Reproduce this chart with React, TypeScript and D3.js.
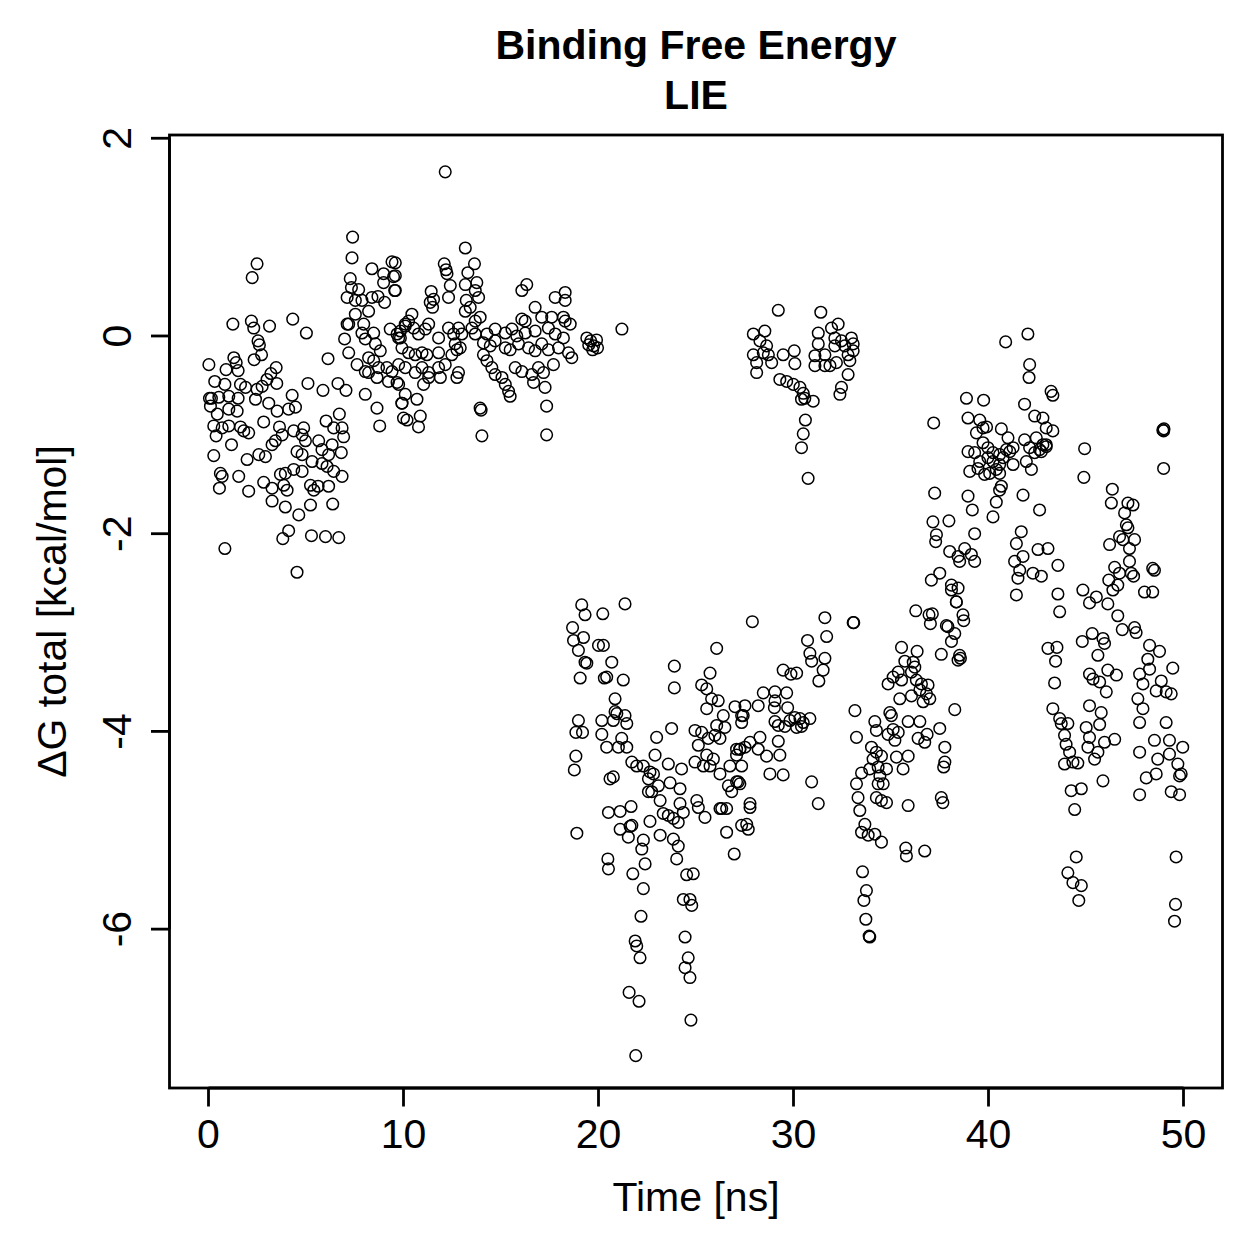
import React from "react";
import { scaleLinear } from "d3";

// [time (ns), ΔG total (kcal/mol)], grouped by region
const early: [number, number][] = [
  [2.49,0.73],[2.24,0.59],[1.25,0.12],[2.2,0.15],[2.32,0.08],[3.13,0.1],[4.32,0.17],[5.02,0.03],[6.13,-0.23],[2.54,-0.05],
  [2.61,-0.09],[2.72,-0.19],[2.34,-0.24],[0.02,-0.29],[1.3,-0.22],[1.42,-0.27],[1.52,-0.35],[0.9,-0.34],[3.47,-0.32],[3.2,-0.38],
  [3.0,-0.44],[3.5,-0.48],[0.32,-0.46],[0.84,-0.49],[1.64,-0.49],[1.9,-0.52],[2.49,-0.54],[2.75,-0.51],[5.1,-0.48],[6.64,-0.48],
  [7.05,-0.55],[5.87,-0.55],[4.29,-0.6],[0.05,-0.63],[0.15,-0.63],[0.53,-0.62],[1.04,-0.61],[1.52,-0.63],[2.41,-0.64],[0.1,-0.71],
  [0.45,-0.79],[1.04,-0.74],[1.47,-0.76],[3.09,-0.68],[3.52,-0.76],[4.11,-0.74],[4.46,-0.72],[6.71,-0.79],[0.27,-0.91],[0.7,-0.93],
  [1.04,-0.91],[1.64,-0.92],[1.81,-0.96],[2.06,-0.98],[2.83,-0.87],[0.39,-1.01],[1.18,-1.1],[3.64,-0.92],[3.78,-1.0],[3.43,-1.06],
  [3.26,-1.1],[4.37,-0.96],[4.88,-0.93],[4.8,-1.0],[4.97,-1.06],[6.03,-0.86],[6.42,-0.93],[6.85,-0.93],[6.93,-1.02],[0.27,-1.21],
  [1.98,-1.25],[2.58,-1.2],[2.92,-1.22],[4.54,-1.17],[4.8,-1.2],[5.65,-1.06],[5.82,-1.15],[6.34,-1.1],[6.16,-1.2],[6.81,-1.18],
  [0.61,-1.39],[0.7,-1.42],[1.55,-1.42],[3.69,-1.4],[3.94,-1.39],[4.37,-1.35],[4.8,-1.37],[5.31,-1.27],[5.82,-1.29],[6.08,-1.32],
  [6.42,-1.37],[6.85,-1.42],[0.56,-1.54],[2.06,-1.57],[2.83,-1.48],[3.26,-1.54],[3.86,-1.51],[4.03,-1.56],[5.23,-1.51],[5.4,-1.56],
  [5.62,-1.52],[6.16,-1.52],[3.26,-1.67],[3.94,-1.73],[4.63,-1.81],[5.23,-1.71],[6.37,-1.7],[4.11,-1.97],[3.81,-2.05],[5.28,-2.02],
  [6.0,-2.03],[6.68,-2.04],[0.84,-2.15],[4.54,-2.39],
];

const plateauA: [number, number][] = [
  [7.39,1.0],[7.36,0.79],[8.38,0.68],[8.98,0.63],[9.49,0.6],[9.41,0.75],[9.55,0.46],[8.98,0.54],[7.27,0.58],[7.33,0.49],
  [7.11,0.39],[7.7,0.47],[7.53,0.36],[7.87,0.36],[8.38,0.39],[8.69,0.4],[9.03,0.34],[7.53,0.22],[8.21,0.25],[7.11,0.12],
  [7.19,0.12],[7.96,0.12],[7.87,0.03],[8.47,0.03],[8.04,-0.03],[6.98,-0.03],[7.19,-0.17],[8.56,-0.08],[8.81,-0.15],[9.32,0.07],
  [9.67,0.02],[9.84,-0.02],[10.09,0.12],[8.21,-0.22],[8.47,-0.25],[8.72,-0.32],[9.15,-0.32],[9.41,-0.36],[8.04,-0.36],[7.62,-0.29],
  [8.21,-0.37],[8.64,-0.42],[9.23,-0.46],[9.67,-0.47],[9.92,-0.68],[10.0,-0.83],[8.04,-0.59],[8.64,-0.73],[8.78,-0.91],
  [13.17,0.89],[13.64,0.73],[12.09,0.73],[12.18,0.67],[12.23,0.63],[13.3,0.64],[13.17,0.52],[13.76,0.54],[13.68,0.46],[13.85,0.39],
  [12.4,0.51],[12.31,0.39],[11.42,0.45],[11.54,0.37],[11.49,0.29],[11.37,0.34],[9.58,0.74],[9.58,0.61],[9.58,0.46],[13.22,0.36],
  [13.42,0.29],[13.17,0.25],[13.93,0.19],[13.68,0.15],[13.51,0.08],[13.68,0.02],[10.43,0.22],[10.26,0.15],[10.09,0.1],[9.84,0.05],
  [10.52,0.08],[10.77,0.02],[11.12,0.07],[11.29,0.12],[11.8,-0.02],[12.31,0.08],[12.57,0.02],[12.82,0.08],[12.99,0.02],[12.65,-0.08],
  [12.91,-0.12],[9.75,-0.02],[9.92,-0.12],[10.26,-0.17],[10.6,-0.19],[10.95,-0.17],[11.2,-0.19],[11.8,-0.17],[12.48,-0.19],[12.74,-0.14],
  [9.75,-0.29],[10.09,-0.32],[10.6,-0.37],[10.95,-0.32],[11.29,-0.37],[11.8,-0.32],[12.14,-0.29],[12.82,-0.37],[12.74,-0.42],[11.89,-0.42],
  [9.75,-0.49],[10.09,-0.59],[9.92,-0.68],[10.69,-0.64],[11.03,-0.49],[11.29,-0.42],[10.18,-0.85],[10.86,-0.81],[10.77,-0.92],[13.93,-0.73],
  [13.98,-0.75],[14.02,-1.01],[12.14,1.66],
];

const plateauB: [number, number][] = [
  [16.07,0.46],[16.32,0.52],[17.78,0.39],[18.29,0.44],[18.29,0.36],[16.75,0.29],[17.09,0.19],[16.07,0.17],[16.24,0.15],[17.6,0.19],
  [18.2,0.19],[18.55,0.12],[18.29,0.15],[14.7,0.07],[14.28,0.02],[15.22,0.03],[15.56,0.07],[15.81,0],[16.24,0.03],[16.75,0.05],
  [17.43,0.08],[17.78,0.02],[18.2,-0.02],[14.1,-0.07],[14.45,-0.1],[14.7,-0.05],[15.22,-0.12],[15.47,-0.14],[15.9,-0.08],[16.41,-0.12],
  [16.75,-0.15],[17.09,-0.08],[17.43,-0.14],[17.95,-0.12],[18.46,-0.17],[18.63,-0.22],[14.1,-0.19],[14.28,-0.25],[14.53,-0.32],[14.7,-0.39],
  [15.05,-0.42],[15.22,-0.49],[15.39,-0.56],[15.47,-0.61],[15.73,-0.32],[16.07,-0.36],[16.58,-0.39],[16.92,-0.32],[17.18,-0.37],[17.69,-0.29],
  [16.67,-0.47],[17.26,-0.52],[17.34,-0.71],[17.34,-1.0],[19.4,-0.02],[19.6,-0.05],[19.75,-0.1],[19.9,-0.04],[19.7,-0.14],[19.5,-0.09],
  [19.95,-0.12],[21.2,0.07],
];

const dropA: [number, number][] = [
  [19.14,-2.72],[19.31,-2.82],[20.22,-2.81],[21.36,-2.71],[18.67,-2.95],[18.72,-3.08],[19.23,-3.05],[18.97,-3.18],[20.0,-3.13],[20.25,-3.13],
  [19.31,-3.3],[19.4,-3.31],[20.68,-3.3],[19.06,-3.46],[20.3,-3.46],[20.42,-3.45],[21.27,-3.48],[20.85,-3.67],[20.85,-3.8],[20.94,-3.82],
  [21.36,-3.84],[21.45,-3.92],[20.76,-3.89],[18.97,-3.89],[18.84,-4.01],[19.18,-4.01],[20.17,-3.89],[20.17,-4.03],[20.42,-4.16],[18.84,-4.25],
  [18.76,-4.39],[21.19,-4.07],[21.45,-4.16],[21.02,-4.16],[20.59,-4.48],[20.76,-4.46],[18.89,-5.03],[20.51,-4.82],[21.11,-4.81],[21.67,-4.76],
  [21.11,-4.99],[21.62,-4.96],[21.53,-5.07],[20.48,-5.29],[20.51,-5.39],[21.71,-4.31],[21.96,-4.35],[22.3,-4.35],[22.64,-4.41],[22.9,-4.24],
  [22.98,-4.06],[23.75,-3.97],[22.56,-4.48],[22.82,-4.43],[23.07,-4.55],[22.73,-4.61],[22.56,-4.61],[23.16,-4.7],[23.58,-4.33],[23.67,-4.52],
  [24.18,-4.58],[24.26,-4.38],[23.32,-4.83],[23.58,-4.85],[23.84,-4.88],[24.09,-4.92],[22.64,-4.91],[24.18,-4.73],[24.35,-4.82],[21.71,-4.95],
  [23.16,-5.05],[23.84,-5.09],[24.09,-5.16],[24.01,-5.29],[22.3,-5.1],[22.22,-5.19],[22.39,-5.34],[21.76,-5.44],[22.3,-5.59],[22.18,-5.87],
  [24.52,-5.45],[24.86,-5.44],[24.35,-5.7],[24.69,-5.7],[24.78,-5.76],[21.88,-6.12],[21.96,-6.17],[22.13,-6.29],[24.44,-6.08],[24.6,-6.29],
  [24.44,-6.39],[24.69,-6.49],[21.57,-6.64],[22.08,-6.73],[24.74,-6.92],[21.91,-7.28],
  [26.06,-3.16],[23.89,-3.34],[23.89,-3.56],[25.72,-3.41],[25.29,-3.53],[25.55,-3.57],[25.8,-3.67],[26.14,-3.69],[25.55,-3.77],[26.4,-3.84],
  [26.06,-3.94],[26.48,-3.96],[27.0,-3.75],[27.34,-3.84],[24.95,-3.99],[25.29,-4.01],[25.63,-4.07],[25.97,-4.04],[26.23,-4.07],[25.12,-4.14],
  [25.55,-4.24],[24.95,-4.31],[25.38,-4.35],[25.72,-4.35],[26.23,-4.43],[25.89,-4.28],[26.74,-4.35],[27.08,-4.24],[27.25,-4.18],[26.66,-4.55],
  [27.08,-4.51],[26.83,-4.61],[26.32,-4.78],[26.57,-4.78],[26.57,-5.02],[26.96,-5.24],[25.04,-4.7],[25.12,-4.77],[25.46,-4.87],[26.23,-4.78],
  [27.34,-4.95],
];

const plateauC: [number, number][] = [
  [29.22,0.26],[31.4,0.24],[27.94,0.02],[28.53,0.05],[28.28,-0.05],[28.62,-0.1],[28.45,-0.17],[27.94,-0.19],[28.71,-0.19],[28.88,-0.27],
  [28.11,-0.27],[28.11,-0.37],[29.47,-0.19],[30.04,-0.15],[30.07,-0.28],[29.3,-0.44],[29.65,-0.46],[29.99,-0.49],[30.33,-0.52],[30.5,-0.58],
  [30.58,-0.63],[31.01,-0.66],[30.41,-0.64],[30.61,-0.85],[30.5,-0.99],[30.41,-1.13],[30.75,-1.44],[31.27,0.03],[31.27,-0.08],[31.1,-0.2],
  [31.61,-0.19],[31.95,0.08],[32.29,0.12],[32.12,-0.02],[32.46,-0.05],[32.63,-0.1],[32.97,-0.02],[33.06,-0.08],[32.8,-0.19],[32.89,-0.25],
  [32.2,-0.27],[31.87,-0.3],[31.61,-0.3],[31.1,-0.3],[32.8,-0.39],[32.46,-0.52],[32.38,-0.59],[33.06,-0.15],[32.12,-0.1],
];

const dropB: [number, number][] = [
  [27.89,-2.89],[31.61,-2.85],[33.06,-2.9],[31.7,-3.04],[30.72,-3.08],[30.84,-3.21],[30.93,-3.29],[31.61,-3.26],[31.52,-3.38],[31.3,-3.49],
  [29.47,-3.38],[29.87,-3.42],[30.16,-3.41],[28.45,-3.61],[29.05,-3.6],[29.65,-3.61],[28.19,-3.74],[29.05,-3.69],[29.02,-3.76],[29.7,-3.76],
  [29.05,-3.9],[29.22,-3.94],[29.56,-3.95],[29.82,-3.89],[30.07,-3.86],[30.33,-3.87],[30.5,-3.91],[30.84,-3.87],[30.16,-3.96],[30.41,-3.95],
  [28.28,-4.06],[27.77,-4.11],[27.51,-4.16],[27.25,-4.18],[28.19,-4.18],[28.62,-4.25],[29.22,-4.1],[29.3,-4.24],[28.79,-4.43],[29.47,-4.44],
  [30.93,-4.51],[31.27,-4.73],[33.15,-3.79],[33.23,-4.06],[27.51,-3.74],[27.42,-3.84],[27.34,-3.91],[27.08,-4.18],[27.34,-4.35],[27.17,-4.51],
  [27.25,-4.53],[27.77,-4.73],[27.77,-4.77],[27.6,-4.94],[27.68,-4.99],
  [33.09,-2.9],[36.27,-2.78],[36.95,-2.82],[37.12,-2.81],[37.02,-2.91],[37.84,-2.93],[37.92,-2.94],[38.27,-3.01],[38.1,-3.09],[38.35,-2.69],
  [38.69,-2.82],[38.73,-2.88],[37.58,-3.22],[38.52,-3.23],[38.56,-3.26],[38.44,-3.28],[35.54,-3.15],[36.34,-3.19],[35.71,-3.29],[36.14,-3.3],
  [36.22,-3.35],[36.05,-3.4],[35.37,-3.4],[35.11,-3.45],[35.54,-3.48],[34.85,-3.52],[36.3,-3.48],[36.56,-3.52],[36.9,-3.53],[36.48,-3.58],
  [36.82,-3.62],[36.99,-3.67],[36.65,-3.7],[35.45,-3.67],[36.05,-3.64],[34.94,-3.81],[35.02,-3.84],[34.17,-3.9],[34.25,-3.99],[34.85,-4.03],
  [35.11,-3.98],[35.37,-4.01],[35.2,-4.09],[35.88,-3.9],[36.48,-3.9],[36.39,-4.07],[36.73,-4.11],[36.85,-4.03],[37.5,-3.97],[38.27,-3.78],
  [34.0,-4.16],[34.25,-4.21],[34.51,-4.25],[34.08,-4.28],[35.28,-4.26],[35.88,-4.25],[33.91,-4.38],[34.34,-4.36],[34.77,-4.38],[35.62,-4.38],
  [33.49,-4.42],[33.23,-4.53],[34.43,-4.45],[34.6,-4.53],[34.34,-4.53],[37.76,-4.16],[37.76,-4.31],[37.7,-4.36],[37.58,-4.67],[37.66,-4.72],
  [33.31,-4.67],[33.4,-4.8],[34.25,-4.67],[34.51,-4.7],[34.77,-4.72],[35.88,-4.75],[33.66,-4.94],[33.49,-5.02],[33.83,-5.05],[34.17,-5.04],
  [34.51,-5.12],[35.76,-5.18],[35.79,-5.26],[36.73,-5.21],[33.54,-5.42],[33.74,-5.61],[33.61,-5.71],[33.71,-5.9],[33.88,-6.07],[33.91,-6.08],
];

const recovery: [number, number][] = [
  [42.02,0.02],[40.88,-0.06],[42.11,-0.29],[42.08,-0.42],[43.21,-0.56],[43.3,-0.6],[38.87,-0.63],[39.75,-0.65],[41.85,-0.69],[42.37,-0.81],
  [42.79,-0.83],[37.19,-0.88],[38.95,-0.83],[39.55,-0.85],[39.72,-0.93],[39.9,-0.92],[40.66,-0.94],[42.96,-0.93],[43.3,-0.96],[39.38,-0.98],
  [38.95,-1.17],[39.29,-1.18],[39.72,-1.08],[39.97,-1.13],[40.23,-1.18],[40.57,-1.2],[40.92,-1.15],[41.26,-1.13],[41.85,-1.05],[42.45,-1.03],
  [42.11,-1.13],[42.37,-1.18],[42.62,-1.15],[42.96,-1.1],[41.0,-1.03],[39.04,-1.37],[39.46,-1.34],[39.8,-1.4],[40.06,-1.39],[40.4,-1.35],
  [40.57,-1.3],[40.75,-1.23],[41.09,-1.17],[41.26,-1.3],[40.57,-1.39],[40.23,-1.27],[39.97,-1.23],[39.55,-1.27],[41.94,-1.27],[42.2,-1.35],
  [40.66,-1.52],[40.57,-1.56],[40.4,-1.68],[41.77,-1.61],[42.62,-1.76],[40.23,-1.83],[37.24,-1.59],[38.95,-1.62],[39.17,-1.76],[37.15,-1.88],
  [37.97,-1.87],[37.33,-2.01],[37.29,-2.08],[39.29,-2.0],[41.68,-1.98],[41.43,-2.1],[41.34,-2.28],[41.77,-2.23],[41.6,-2.37],[41.51,-2.45],
  [41.43,-2.62],[42.28,-2.4],[42.71,-2.43],[42.54,-2.16],[43.05,-2.15],[38.01,-2.18],[38.44,-2.23],[38.78,-2.15],[39.12,-2.21],[39.29,-2.28],
  [38.52,-2.28],[37.07,-2.47],[37.5,-2.4],[38.1,-2.52],[38.1,-2.57],[38.44,-2.55],[38.35,-2.69],
];

const late: [number, number][] = [
  [48.94,-0.95],[48.98,-0.96],[49.0,-0.94],[48.98,-1.34],[44.93,-1.14],[44.89,-1.43],[42.79,-1.1],[42.96,-1.12],[42.71,-1.17],
  [46.35,-1.55],[46.3,-1.69],[47.15,-1.69],[47.41,-1.71],[46.98,-1.79],[47.07,-1.91],[47.15,-1.94],[46.72,-2.03],[46.89,-2.06],[47.49,-2.06],
  [47.23,-2.15],[46.21,-2.11],[47.23,-2.28],[47.32,-2.4],[47.44,-2.43],[46.47,-2.34],[46.72,-2.4],[46.17,-2.47],[46.63,-2.52],[46.38,-2.57],
  [48.42,-2.35],[48.51,-2.37],[48.0,-2.59],[48.42,-2.59],[43.56,-2.32],[43.56,-2.61],[43.65,-2.79],[44.84,-2.57],[45.18,-2.7],[45.53,-2.64],
  [46.12,-2.71],[46.63,-2.83],[46.86,-2.97],[47.49,-2.95],[47.57,-3.0],
  [43.05,-3.16],[43.51,-3.15],[43.44,-3.29],[43.39,-3.51],[43.3,-3.77],[43.65,-3.87],[43.73,-3.92],[44.07,-3.92],[43.9,-4.04],[43.98,-4.13],
  [44.16,-4.21],[44.33,-4.31],[43.9,-4.33],[44.58,-4.32],[44.76,-4.58],[44.24,-4.6],[44.42,-4.79],
  [44.81,-3.09],[45.32,-3.01],[45.87,-3.06],[45.95,-3.11],[45.61,-3.23],[45.18,-3.42],[45.36,-3.47],[45.7,-3.5],[46.12,-3.38],[46.56,-3.43],
  [46.04,-3.6],[45.18,-3.74],[45.78,-3.81],[45.7,-3.93],[45.01,-3.96],[45.18,-4.06],[45.1,-4.16],[45.61,-4.21],[45.44,-4.28],[45.95,-4.11],
  [46.47,-4.08],[45.87,-4.5],
  [48.26,-3.13],[48.77,-3.19],[48.17,-3.27],[48.26,-3.37],[47.75,-3.42],[47.92,-3.52],[48.86,-3.49],[48.6,-3.59],[49.11,-3.6],[49.37,-3.62],
  [49.45,-3.36],[47.66,-3.67],[47.92,-3.77],[47.75,-3.91],[49.11,-3.91],[48.51,-4.09],[49.28,-4.09],[49.96,-4.16],[48.68,-4.28],[49.28,-4.23],
  [49.71,-4.33],[49.88,-4.43],[49.8,-4.45],[48.6,-4.43],[48.09,-4.47],[47.75,-4.21],[47.75,-4.64],[49.37,-4.61],[49.8,-4.64],
  [44.5,-5.27],[44.07,-5.43],[44.33,-5.53],[44.76,-5.56],[44.63,-5.71],[49.62,-5.27],[49.59,-5.75],[49.54,-5.92],
];

const xTicks = [0, 10, 20, 30, 40, 50];
const yTicks = [-6, -4, -2, 0, 2];
const titleLines = ["Binding Free Energy", "LIE"];
const xLabel = "Time [ns]";
const yLabel = "ΔG total [kcal/mol]";

const allPoints = [...early, ...plateauA, ...plateauB, ...dropA, ...plateauC, ...dropB, ...recovery, ...late];

export default function App() {
  const width = 1259,
    height = 1259;
  const plot = { left: 169.5, right: 1222.5, top: 135, bottom: 1088 };
  const font = "'Liberation Sans', Arial, Helvetica, sans-serif";

  const xScale = scaleLinear().domain([-2, 52]).range([plot.left, plot.right]);
  const yScale = scaleLinear().domain([-7.607, 2.033]).range([plot.bottom, plot.top]);

  return (
    <svg
      width={width}
      height={height}
      style={{ position: "absolute", left: 0, top: 0, background: "#fff" }}
      fontFamily={font}
    >
      <rect x={0} y={0} width={width} height={height} fill="#fff" />

      {titleLines.map((t, i) => (
        <text key={t} x={696} y={59 + i * 50} textAnchor="middle" fontSize={41} fontWeight="bold">
          {t}
        </text>
      ))}

      {allPoints.map(([t, g], i) => (
        <circle
          key={i}
          cx={xScale(t)}
          cy={yScale(g)}
          r={5.8}
          fill="none"
          stroke="#000"
          strokeWidth={1.5}
        />
      ))}

      <rect
        x={plot.left}
        y={plot.top}
        width={plot.right - plot.left}
        height={plot.bottom - plot.top}
        fill="none"
        stroke="#000"
        strokeWidth={2.8}
      />

      {/* x axis */}
      <line x1={xScale(0)} x2={xScale(50)} y1={plot.bottom} y2={plot.bottom} stroke="#000" strokeWidth={2.8} />
      {xTicks.map(v => (
        <g key={v} transform={`translate(${xScale(v)},${plot.bottom})`}>
          <line y1={0} y2={18.5} stroke="#000" strokeWidth={2.8} />
          <text y={60} textAnchor="middle" fontSize={41}>
            {v}
          </text>
        </g>
      ))}
      <text x={696} y={1211} textAnchor="middle" fontSize={41}>
        {xLabel}
      </text>

      {/* y axis */}
      <line x1={plot.left} x2={plot.left} y1={yScale(-6)} y2={yScale(2)} stroke="#000" strokeWidth={2.8} />
      {yTicks.map(v => (
        <g key={v} transform={`translate(${plot.left},${yScale(v)})`}>
          <line x1={0} x2={-18.5} stroke="#000" strokeWidth={2.8} />
          <text transform="translate(-38.5,0) rotate(-90)" textAnchor="middle" fontSize={41}>
            {v}
          </text>
        </g>
      ))}
      <text transform={`translate(66,${(plot.top + plot.bottom) / 2}) rotate(-90)`} textAnchor="middle" fontSize={41}>
        {yLabel}
      </text>
    </svg>
  );
}
